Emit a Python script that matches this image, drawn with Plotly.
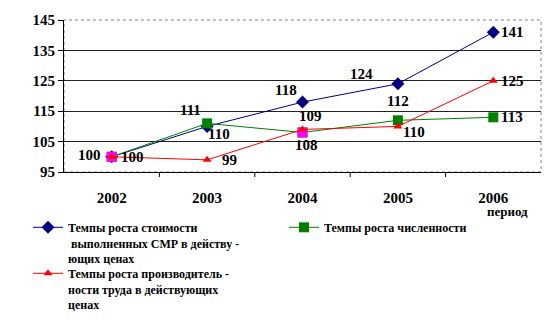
import plotly.graph_objects as go

years = ["2002", "2003", "2004", "2005", "2006"]
cost_growth = [100, 110, 118, 124, 141]
headcount_growth = [100, 111, 108, 112, 113]
productivity_growth = [100, 99, 109, 110, 125]
y_ticks = [95, 105, 115, 125, 135, 145]

name_cost = "Темпы роста стоимости<br> выполненных СМР в действу -<br>ющих ценах"
name_head = "Темпы роста численности"
name_prod = "Темпы роста производитель -<br>ности труда в действующих<br>ценах"

serif = "Times New Roman"

fig = go.Figure()

fig.add_trace(go.Scatter(
    x=years, y=cost_growth, name=name_cost, mode="lines+markers",
    line=dict(color="#000080", width=1),
    marker=dict(symbol="diamond", size=10, color="#000080"),
    legend="legend",
))
fig.add_trace(go.Scatter(
    x=years, y=headcount_growth, name=name_head, mode="lines+markers",
    line=dict(color="#008000", width=1),
    marker=dict(symbol="square", size=10, color="#008000"),
    legend="legend2",
))
# highlighted points of the headcount series
hl = [0, 2]
fig.add_trace(go.Scatter(
    x=[years[i] for i in hl], y=[headcount_growth[i] for i in hl],
    mode="markers", showlegend=False,
    marker=dict(symbol="square", size=10, color="#FF00FF"),
))
fig.add_trace(go.Scatter(
    x=years, y=productivity_growth, name=name_prod, mode="lines+markers",
    line=dict(color="#FF0000", width=1),
    marker=dict(symbol="triangle-up", size=8, color="#FF0000"),
    legend="legend3",
))

# value labels: (series, index, xshift, yshift); x given as category index
label_specs = [
    (cost_growth, 0, -22, 2),
    (headcount_growth, 0, 21, 0),
    (headcount_growth, 1, -17, 13),
    (cost_growth, 1, 12, -8),
    (productivity_growth, 1, 22, 0),
    (cost_growth, 2, -17, 12),
    (productivity_growth, 2, 8, 13),
    (headcount_growth, 2, 4, -13),
    (cost_growth, 3, -36, 10),
    (headcount_growth, 3, 0, 19),
    (productivity_growth, 3, 16, -6),
    (cost_growth, 4, 19, 0),
    (productivity_growth, 4, 19, 0),
    (headcount_growth, 4, 19, 0),
]
for series, i, dx, dy in label_specs:
    fig.add_annotation(
        x=i, y=series[i], text=str(series[i]), showarrow=False,
        xshift=dx, yshift=dy,
        font=dict(family=serif, size=15, color="black", weight="bold"),
    )

fig.add_annotation(
    xref="paper", yref="paper", x=(507 - 64) / 477, y=(172 - 211) / 152,
    xanchor="center", yanchor="middle",
    text="период", showarrow=False,
    font=dict(family=serif, size=13, color="black", weight="bold"),
)

# plot area frame
fig.add_shape(type="rect", xref="paper", yref="paper", x0=0, x1=1, y0=0, y1=1,
              line=dict(color="#808080", width=1, dash="dot"), layer="below")

# short category-boundary ticks below the x axis
for k in range(1, len(years)):
    fig.add_shape(
        type="line", xref="x", yref="paper", ysizemode="pixel", yanchor=0,
        x0=k - 0.5, x1=k - 0.5, y0=0, y1=-5,
        line=dict(color="black", width=1),
    )

legend_font = dict(family=serif, size=12, color="black", weight="bold")


def legend_at(px, py):
    return dict(
        xref="container", yref="container",
        x=px / 546, y=1 - py / 330, xanchor="left", yanchor="top",
        itemwidth=30, valign="top", font=legend_font,
        bgcolor="rgba(0,0,0,0)",
    )


fig.update_layout(
    width=546, height=330,
    margin=dict(l=64, r=5, t=20, b=158, autoexpand=False),
    paper_bgcolor="white", plot_bgcolor="white",
    font=dict(family=serif, color="black"),
    xaxis=dict(
        type="category", range=[-0.5, len(years) - 0.5],
        ticks="outside", ticklen=12, tickcolor="rgba(0,0,0,0)",
        showline=True, linecolor="black", linewidth=1,
        showgrid=False, automargin=False,
        tickfont=dict(family=serif, size=15, weight="bold"),
    ),
    yaxis=dict(
        range=[95, 145], tickvals=y_ticks, ticks="outside", ticklen=5,
        tickcolor="black", showline=True, linecolor="black", linewidth=1,
        showgrid=True, gridcolor="#222222", gridwidth=1, zeroline=False,
        automargin=False,
        tickfont=dict(family=serif, size=15, weight="bold"),
    ),
    legend=legend_at(28, 213),
    legend2=legend_at(284, 213),
    legend3=legend_at(28, 259),
)

fig.write_html("out.html")
